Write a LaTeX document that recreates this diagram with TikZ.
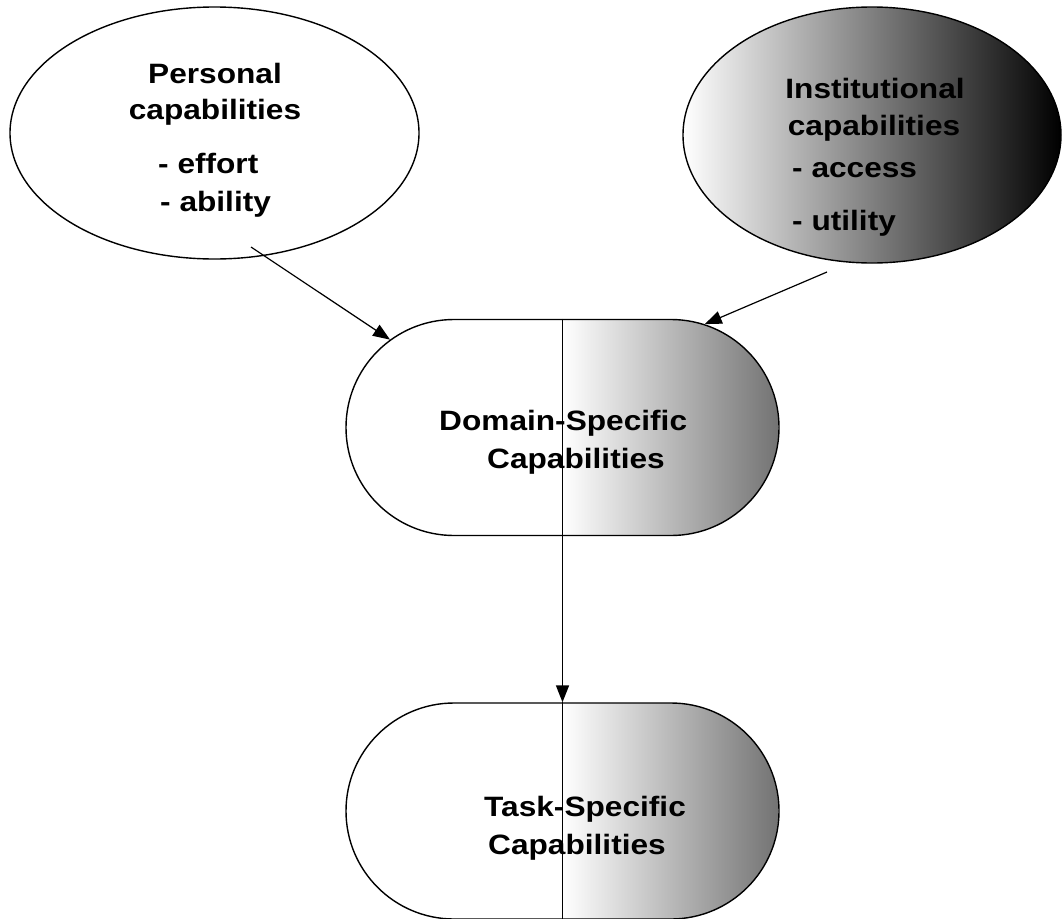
\documentclass[tikz,border=0pt]{standalone}
\usepackage{fontspec}
\setmainfont{Liberation Sans}[FakeStretch=1.13]
\usetikzlibrary{shapes.geometric,shapes.misc,arrows.meta}
\begin{document}
\begin{tikzpicture}[x=1pt,y=-1pt,
  outline/.style={draw=black,line width=1.4pt},
  oval/.style={outline,ellipse,inner sep=0pt},
  pill/.style={outline,rounded rectangle,minimum width=433pt,minimum height=216pt,inner sep=0pt},
  halfshade/.style={left color=white,right color=black!55},
  lbl/.style={inner sep=0pt,font=\fontsize{28}{34}\selectfont\bfseries},
  conn/.style={line width=1.2pt,-{Triangle[length=17pt,width=13pt]}},
  divider/.style={line width=1.7pt}]
\useasboundingbox (0,0) rectangle (1062,918);
\fill[white] (0,0) rectangle (1062,918);
\clip (0,0) rectangle (1062,918);

% shaded right halves of the two pills
\shade[halfshade] (562.5,319.5) -- (670.5,319.5) arc[start angle=-90,end angle=90,radius=108] -- (562.5,535.5) -- cycle;
\shade[halfshade] (562.5,703) -- (670.5,703) arc[start angle=-90,end angle=90,radius=108] -- (562.5,919) -- cycle;

% shapes
\node[oval,minimum width=409pt,minimum height=252pt] (pers) at (214.5,133) {};
\node[oval,minimum width=378pt,minimum height=256pt,left color=white,right color=black] (inst) at (872,135) {};
\node[pill] (dom) at (562.5,427.5) {};
\node[pill] (task) at (562.5,811) {};

% texts
\node[lbl,anchor=base] (pt1) at (215,83) {Personal};
\node[lbl,anchor=base] (pt2) at (215,119) {capabilities};
\node[lbl,anchor=base west] (pt3) at (158,173) {- effort};
\node[lbl,anchor=base west] (pt4) at (160,211) {- ability};
\node[lbl,anchor=base] (it1) at (875,98) {Institutional};
\node[lbl,anchor=base] (it2) at (874,135) {capabilities};
\node[lbl,anchor=base west] (it3) at (792,177) {- access};
\node[lbl,anchor=base west] (it4) at (792,230) {- utility};
\node[lbl,anchor=base west] (dt1) at (439,430) {Domain-Specific};
\node[lbl,anchor=base west] (dt2) at (487,468) {Capabilities};
\node[lbl,anchor=base west] (tt1) at (484,816) {Task-Specific};
\node[lbl,anchor=base west] (tt2) at (488,854) {Capabilities};

% dividers and connectors
\draw[divider] (dom.north) -- (dom.south);
\draw[divider] (task.north) -- (task.south);
\draw[conn,line width=1.6pt] (dom.south) -- (task.north);
\coordinate (pstart) at (251,247);
\coordinate (istart) at (827,272);
\draw[conn] (pstart) -- (dom.153.3);
\draw[conn] (istart) -- (dom.36.5);
\end{tikzpicture}
\end{document}
